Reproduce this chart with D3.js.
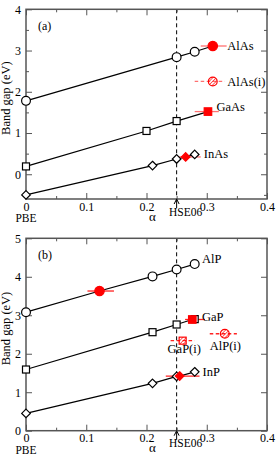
<!DOCTYPE html>
<html>
<head>
<meta charset="utf-8">
<script src="https://cdn.jsdelivr.net/npm/d3@7"></script>
<style>
  body { margin: 0; background: #fff; }
  svg { display: block; font-family: "Liberation Serif", "DejaVu Serif", serif; }
</style>
</head>
<body>
<svg id="chart" width="277" height="457"></svg>
<script>
// x tick values (alpha), shared by both panels
const xTicks = [0, 0.1, 0.2, 0.3, 0.4];

// panel (a) arsenides: black = calculated [alpha, gap], red = experiment [alpha, gap, alphaLo, alphaHi]
const alasCalc = [[0, 1.78], [0.25, 2.84], [0.28, 2.97]];
const alasExp = [0.31, 3.11, 0.29, 0.333];
const alasIExp = [0.31, 2.25, 0.28, 0.33];
const gaasCalc = [[0, 0.19], [0.2, 1.05], [0.25, 1.29]];
const gaasExp = [0.302, 1.52, 0.28, 0.32];
const inasCalc = [[0, -0.5], [0.21, 0.21], [0.25, 0.37], [0.28, 0.48]];
const inasExp = [0.265, 0.42, 0.25, 0.29];

// panel (b) phosphides
const alpCalc = [[0, 3.08], [0.21, 4.01], [0.25, 4.19], [0.28, 4.33]];
const alpExp = [0.122, 3.63, 0.102, 0.146];
const alpIExp = [0.33, 2.52, 0.305, 0.35];
const gapCalc = [[0, 1.59], [0.21, 2.56], [0.25, 2.76], [0.28, 2.9]];
const gapExp = [0.276, 2.89, 0.264, 0.297];
const gapIExp = [0.26, 2.34, 0.24, 0.28];
const inpCalc = [[0, 0.45], [0.21, 1.23], [0.25, 1.41], [0.28, 1.53]];
const inpExp = [0.255, 1.42, 0.232, 0.288];

// text labels [text, alpha, gap]
const labelsA = [["AlAs", 0.334, 3.11], ["AlAs(i)", 0.334, 2.25], ["GaAs", 0.316, 1.63], ["InAs", 0.295, 0.49]];
const labelsB = [["AlP", 0.292, 4.46], ["GaP", 0.292, 2.96], ["GaP(i)", 0.235, 2.13], ["AlP(i)", 0.305, 2.22], ["InP", 0.293, 1.53]];

const svg = d3.select("#chart");
const defs = svg.append("defs");
defs.append("pattern")
  .attr("id", "hatch").attr("patternUnits", "userSpaceOnUse")
  .attr("width", 2.5).attr("height", 2.5).attr("patternTransform", "rotate(45)")
  .append("line").attr("x1", 0).attr("y1", 0).attr("x2", 0).attr("y2", 2.5)
  .attr("stroke", "red").attr("stroke-width", 1.2);

const x = d3.scaleLinear().domain([0, 0.4]).range([26, 267]);

const marker = (g, shape, cx, cy, style) => {
  const fill = style === "open" ? "#fff" : style === "hatch" ? "url(#hatch)" : "red";
  const stroke = style === "open" ? "#000" : "red";
  let el;
  if (shape === "circle") {
    el = g.append("circle").attr("cx", cx).attr("cy", cy).attr("r", style === "filled" ? 4.7 : 4.4);
  } else if (shape === "square") {
    const s = style === "filled" ? 7.5 : 7;
    el = g.append("rect").attr("x", cx - s / 2).attr("y", cy - s / 2).attr("width", s).attr("height", s);
  } else {
    const r = 4.3;
    el = g.append("path").attr("d", `M${cx},${cy - r}L${cx + r},${cy}L${cx},${cy + r}L${cx - r},${cy}Z`);
  }
  el.attr("fill", fill).attr("stroke", stroke).attr("stroke-width", 1.2);
};

const panel = (cfg) => {
  const y = d3.scaleLinear().domain(cfg.yDomain).range([cfg.bottom, cfg.top]);
  const g = svg.append("g");
  const xMinor = d3.range(0.05, 0.4, 0.1);
  const yMinor = d3.range(Math.ceil(cfg.yDomain[0] * 2) / 2, cfg.yDomain[1], 1).filter(v => Math.abs(v % 1) > 0.1);

  // dashed HSE06 line
  g.append("line")
    .attr("x1", x(0.25)).attr("x2", x(0.25)).attr("y1", cfg.top).attr("y2", cfg.bottom)
    .attr("stroke", "#000").attr("stroke-width", 1).attr("stroke-dasharray", "4,3");

  // axes: major + minor, inward, mirrored
  const axes = [
    [d3.axisBottom(x).tickValues(xTicks).tickFormat(d3.format("")), `translate(0,${cfg.bottom})`, 6, 3],
    [d3.axisBottom(x).tickValues(xMinor).tickFormat(""), `translate(0,${cfg.bottom})`, 3, 0],
    [d3.axisTop(x).tickValues(xTicks).tickFormat(""), `translate(0,${cfg.top})`, 6, 0],
    [d3.axisTop(x).tickValues(xMinor).tickFormat(""), `translate(0,${cfg.top})`, 3, 0],
    [d3.axisLeft(y).tickValues(cfg.yTicks).tickFormat(d3.format("d")), `translate(${x(0)},0)`, 6, 5],
    [d3.axisLeft(y).tickValues(yMinor).tickFormat(""), `translate(${x(0)},0)`, 3, 0],
    [d3.axisRight(y).tickValues(cfg.yTicks).tickFormat(""), `translate(${x(0.4)},0)`, 6, 0],
    [d3.axisRight(y).tickValues(yMinor).tickFormat(""), `translate(${x(0.4)},0)`, 3, 0],
  ];
  axes.forEach(([ax, tr, len, pad]) => {
    const a = g.append("g").attr("transform", tr)
      .call(ax.tickSizeInner(-len).tickSizeOuter(0).tickPadding(pad));
    a.select(".domain").remove();
    a.selectAll("line").attr("stroke", "#555").attr("stroke-width", 1);
    a.selectAll("text").attr("font-size", 12).attr("font-family", "Liberation Serif").attr("fill", "#000");
  });

  // frame
  g.append("rect")
    .attr("x", x(0)).attr("y", cfg.top).attr("width", x(0.4) - x(0)).attr("height", cfg.bottom - cfg.top)
    .attr("fill", "none").attr("stroke", "#555").attr("stroke-width", 1.5);

  // lines through calc + experiment points
  const line = d3.line().x(d => x(d[0])).y(d => y(d[1]));
  cfg.series.forEach(s => {
    const pts = s.calc.concat(s.exp ? [[s.exp[0], s.exp[1]]] : []).sort((p, q) => p[0] - q[0]);
    g.append("path").attr("d", line(pts)).attr("fill", "none").attr("stroke", "#000").attr("stroke-width", 1.2);
  });
  // error bars
  cfg.series.forEach(s => {
    [[s.exp, false], [s.expI, true]].forEach(([e, dashed]) => {
      if (!e) return;
      g.append("line")
        .attr("x1", x(e[2])).attr("x2", x(e[3])).attr("y1", y(e[1])).attr("y2", y(e[1]))
        .attr("stroke", cfg.errColor).attr("stroke-width", 1.3)
        .attr("stroke-dasharray", dashed ? "3.5,2.5" : null);
    });
  });
  // markers
  cfg.series.forEach(s => {
    s.calc.forEach(p => marker(g, s.shape, x(p[0]), y(p[1]), "open"));
    if (s.exp) marker(g, s.shape, x(s.exp[0]), y(s.exp[1]), "filled");
    if (s.expI) marker(g, s.shape, x(s.expI[0]), y(s.expI[1]), "hatch");
  });

  // labels
  cfg.labels.forEach(([t, lx, ly]) => {
    g.append("text").attr("x", x(lx)).attr("y", y(ly)).attr("dy", "0.35em")
      .attr("font-size", 12.5).text(t);
  });
  g.append("text").attr("x", x(0) + 12).attr("y", cfg.top + 16).attr("dy", "0.35em")
    .attr("font-size", 12).text(cfg.tag);

  // axis titles
  g.append("text")
    .attr("transform", `translate(9.5,${(cfg.top + cfg.bottom) / 2 - 6}) rotate(-90)`)
    .attr("text-anchor", "middle").attr("font-size", 12.5).text("Band gap (eV)");
  g.append("text").attr("x", x(0)).attr("y", cfg.bottom + 19).attr("dy", "0.35em")
    .attr("text-anchor", "middle").attr("font-size", 11.5).text("PBE");
  g.append("text").attr("x", x(0.21)).attr("y", cfg.bottom + 17).attr("dy", "0.35em")
    .attr("text-anchor", "middle").attr("font-size", 13).text("α");
  g.append("text").attr("x", x(0.265)).attr("y", cfg.bottom + 12.5).attr("dy", "0.35em")
    .attr("text-anchor", "middle").attr("font-size", 11.5).text("HSE06");
  // arrow to 0.25
  g.append("line").attr("x1", x(0.25)).attr("x2", x(0.25)).attr("y1", cfg.bottom + 9).attr("y2", cfg.bottom + 1)
    .attr("stroke", "#000").attr("stroke-width", 1);
  g.append("path")
    .attr("d", `M${x(0.25) - 2.5},${cfg.bottom + 5}L${x(0.25)},${cfg.bottom}L${x(0.25) + 2.5},${cfg.bottom + 5}`)
    .attr("fill", "none").attr("stroke", "#000").attr("stroke-width", 1);
};

panel({
  top: 9.3, bottom: 199, yDomain: [-0.6, 4], yTicks: [0, 1, 2, 3, 4], tag: "(a)", errColor: "#ff7070",
  series: [
    { shape: "circle", calc: alasCalc, exp: alasExp, expI: alasIExp },
    { shape: "square", calc: gaasCalc, exp: gaasExp },
    { shape: "diamond", calc: inasCalc, exp: inasExp },
  ],
  labels: labelsA,
});
panel({
  top: 238.3, bottom: 430.7, yDomain: [0, 5], yTicks: [0, 1, 2, 3, 4, 5], tag: "(b)", errColor: "#f22",
  series: [
    { shape: "circle", calc: alpCalc, exp: alpExp, expI: alpIExp },
    { shape: "square", calc: gapCalc, exp: gapExp, expI: gapIExp },
    { shape: "diamond", calc: inpCalc, exp: inpExp },
  ],
  labels: labelsB,
});
</script>
</body>
</html>
